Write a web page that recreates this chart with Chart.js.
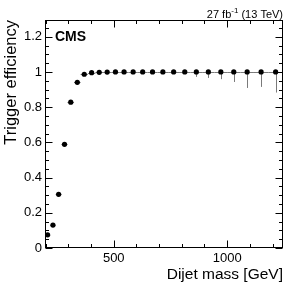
<!DOCTYPE html>
<html>
<head>
<meta charset="utf-8">
<script src="https://cdn.jsdelivr.net/npm/chart.js@4"></script>
<style>
  html, body { margin: 0; padding: 0; background: #fff; }
  #wrap { position: relative; width: 299px; height: 287px; }
</style>
</head>
<body>
<div id="wrap"><canvas id="effChart" width="299" height="287"></canvas></div>
<script>
// Dijet mass bin edges (GeV)
const binEdges = [197, 220, 244, 270, 296, 325, 354, 386, 419, 453, 489, 526, 565, 606,
                  649, 693, 740, 788, 838, 890, 944, 1000, 1058, 1118, 1181, 1246];
// Trigger efficiency per bin
const efficiency = [0.075, 0.13, 0.305, 0.589, 0.828, 0.941, 0.987, 0.996, 0.998, 0.999,
                    1.0, 1.0, 1.0, 1.0, 1.0, 1.0, 1.0, 1.0, 1.0, 1.0,
                    1.0, 1.0, 1.0, 1.0, 1.0];
// Lower error (upper error is ~0 near 1)
const errDown = [0.004, 0.006, 0.007, 0.008, 0.007, 0.005, 0.003, 0.002, 0.002, 0.002,
                 0.002, 0.002, 0.002, 0.002, 0.003, 0.004, 0.006, 0.010, 0.028, 0.034,
                 0.041, 0.057, 0.091, 0.085, 0.117];
const xTickLabels = [500, 1000];
const yTickLabels = [0, 0.2, 0.4, 0.6, 0.8, 1, 1.2];
const lumiText = '27 fb';
const energyText = ' (13 TeV)';

const points = efficiency.map((v, i) => ({ x: (binEdges[i] + binEdges[i + 1]) / 2, y: v }));

const FONT = '"Liberation Sans", Arial, Helvetica, sans-serif';

// error bars, inner ticks and labels in ROOT style
const rootStyle = {
    id: 'rootStyle',
    beforeDatasetsDraw(chart) {
        const ctx = chart.ctx, xs = chart.scales.x, ys = chart.scales.y;
        ctx.save();
        ctx.strokeStyle = '#7a7a7a';
        ctx.lineWidth = 1;
        efficiency.forEach((v, i) => {
            const py = Math.round(ys.getPixelForValue(v)) + 0.5;
            const x0 = xs.getPixelForValue(binEdges[i]);
            const x1 = xs.getPixelForValue(binEdges[i + 1]);
            ctx.beginPath();
            ctx.moveTo(x0, py); ctx.lineTo(x1, py);
            ctx.stroke();
            const px = Math.round(xs.getPixelForValue(points[i].x)) + 0.5;
            ctx.beginPath();
            ctx.moveTo(px, ys.getPixelForValue(v));
            ctx.lineTo(px, ys.getPixelForValue(v - errDown[i]));
            ctx.stroke();
        });
        ctx.restore();
    },
    afterDraw(chart) {
        const ctx = chart.ctx, xs = chart.scales.x, ys = chart.scales.y;
        const a = chart.chartArea;
        const L = a.left + 0.5, R = a.right - 0.5, T = a.top + 0.5, B = a.bottom - 0.5;
        ctx.save();
        ctx.strokeStyle = '#000';
        ctx.lineWidth = 1;
        ctx.strokeRect(L, T, R - L, B - T);
        ctx.beginPath();
        for (let v = 0; v <= ys.max + 1e-9; v += 0.05) {
            const major = Math.abs(v / 0.2 - Math.round(v / 0.2)) < 1e-6;
            const len = major ? 7 : 3.5;
            const y = Math.round(ys.getPixelForValue(v)) + 0.5;
            ctx.moveTo(L, y); ctx.lineTo(L + len, y);
            ctx.moveTo(R, y); ctx.lineTo(R - len, y);
        }
        for (let v = 200; v <= xs.max; v += 100) {
            const len = v % 500 === 0 ? 7 : 3.5;
            const x = Math.round(xs.getPixelForValue(v)) + 0.5;
            ctx.moveTo(x, B); ctx.lineTo(x, B - len);
            ctx.moveTo(x, T); ctx.lineTo(x, T + len);
        }
        ctx.stroke();

        ctx.fillStyle = '#000';
        // CMS label
        ctx.font = 'bold 14px ' + FONT;
        ctx.textAlign = 'left';
        ctx.textBaseline = 'alphabetic';
        ctx.fillText('CMS', 55, 41);
        // lumi label, right aligned
        ctx.font = '11px ' + FONT;
        const wE = ctx.measureText(energyText).width;
        ctx.font = '8px ' + FONT;
        const wS = ctx.measureText('-1').width;
        ctx.font = '11px ' + FONT;
        const wL = ctx.measureText(lumiText).width;
        let x = a.right - wE - wS - wL;
        ctx.fillText(lumiText, x, 18);
        ctx.font = '8px ' + FONT;
        ctx.fillText('-1', x + wL, 13);
        ctx.font = '11px ' + FONT;
        ctx.fillText(energyText, x + wL + wS, 18);
        // axis titles
        ctx.font = '15.5px ' + FONT;
        ctx.textAlign = 'right';
        ctx.fillText('Dijet mass [GeV]', a.right, 279);
        ctx.save();
        ctx.translate(16, a.top);
        ctx.rotate(-Math.PI / 2);
        ctx.font = '16.5px ' + FONT;
        ctx.fillText('Trigger efficiency', 0, 0);
        ctx.restore();
        ctx.restore();
    }
};

new Chart(document.getElementById('effChart'), {
    type: 'scatter',
    data: {
        datasets: [{
            data: points,
            backgroundColor: '#000',
            borderColor: '#000',
            pointRadius: 2.6,
            pointBorderWidth: 0
        }]
    },
    options: {
        responsive: false,
        animation: false,
        layout: { padding: { top: 20, right: 16, left: 0, bottom: 0 } },
        plugins: { legend: { display: false }, tooltip: { enabled: false } },
        scales: {
            x: {
                type: 'linear',
                min: binEdges[0],
                max: binEdges[binEdges.length - 1],
                grid: { display: false, drawTicks: false },
                border: { display: false },
                afterBuildTicks: s => { s.ticks = xTickLabels.map(v => ({ value: v })); },
                afterFit: s => { s.height = 39; },
                ticks: { color: '#000', padding: 3, maxRotation: 0, font: { family: FONT, size: 13 },
                         callback: v => String(v) }
            },
            y: {
                min: 0,
                max: 1.295,
                grid: { display: false, drawTicks: false },
                border: { display: false },
                afterBuildTicks: s => { s.ticks = yTickLabels.map(v => ({ value: v })); },
                afterFit: s => { s.width = 45; },
                ticks: { color: '#000', padding: 3, font: { family: FONT, size: 13 },
                         callback: v => String(v) }
            }
        }
    },
    plugins: [rootStyle]
});
</script>
</body>
</html>
